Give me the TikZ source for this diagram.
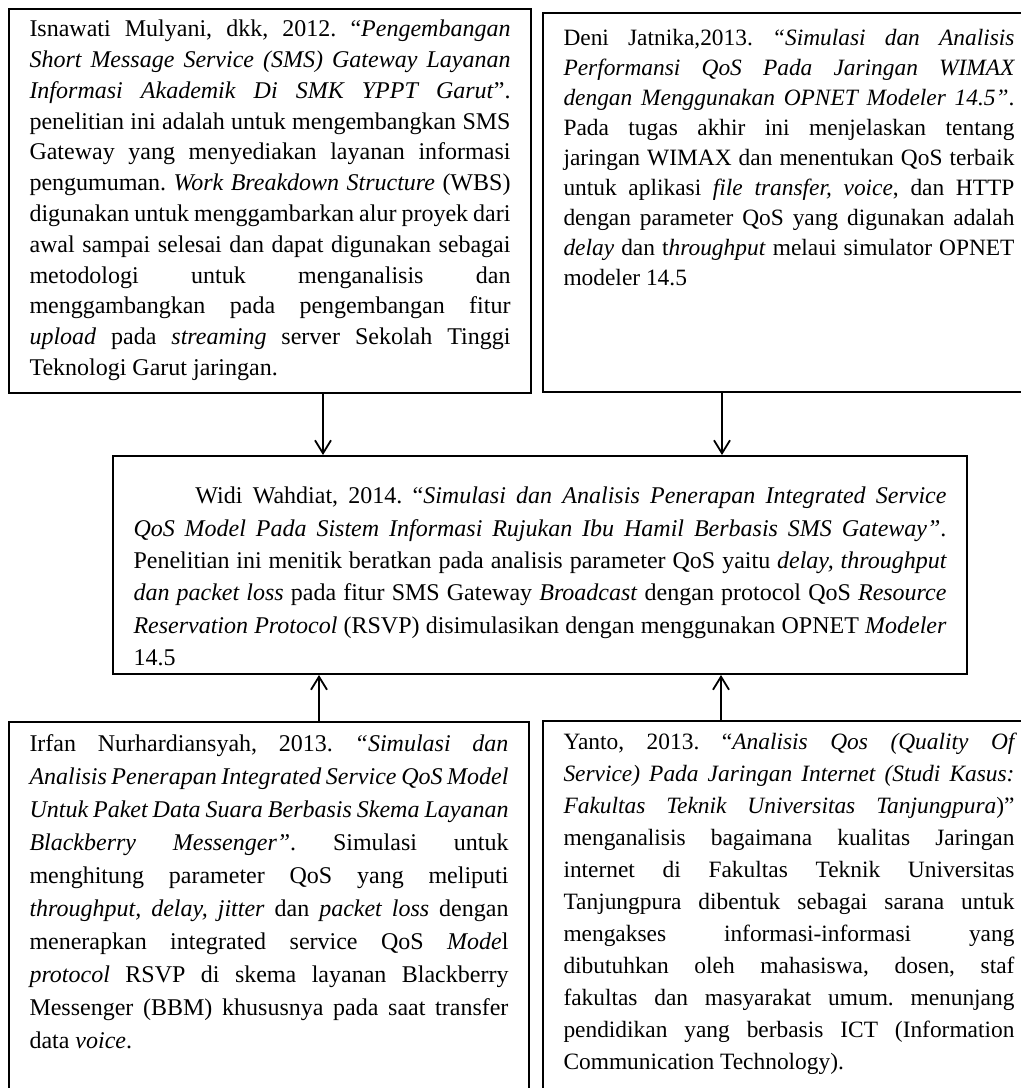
\documentclass[tikz,border=0pt]{standalone}
\usepackage{fontspec}
\setmainfont{Liberation Serif}
\usepackage{tikz}
\usetikzlibrary{arrows.meta,positioning}
\frenchspacing
\hyphenpenalty=10000
\exhyphenpenalty=10000
\tolerance=10000
\hbadness=10000
\vbadness=10000
\hfuzz=3pt
\vfuzz=20pt
% text block of fixed height, set from the top
\newcommand{\reftext}[3]{\begin{minipage}[t][#1][t]{#2}#3\end{minipage}}

\begin{document}
\begin{tikzpicture}[
  refbox/.style={
    rectangle, draw=black, line width=1pt, anchor=north west,
    inner xsep=10.25pt, inner ysep=6pt,
    font={\fontsize{12}{15.4}\selectfont}
  },
  narrowbox/.style={
    refbox, font={\fontsize{11.7}{15}\selectfont}
  },
  mainbox/.style={
    rectangle, draw=black, line width=1pt,
    inner xsep=10.25pt, inner ysep=15.5pt,
    font={\fontsize{12}{16.2}\selectfont}
  },
  arr/.style={-{Straight Barb[length=6.5pt,width=8pt]}, line width=0.9pt},
]
\useasboundingbox (0,0) rectangle (510.5pt,-544pt);

% ── Nodes ──
\node[refbox, inner ysep=5.5pt] (isnawati) at (4pt,-4pt)
  {\reftext{181pt}{240.5pt}{Isnawati Mulyani, dkk, 2012. “\textit{Pengembangan\linebreak
  Short Message Service (SMS) Gateway Layanan\linebreak
  Informasi Akademik Di SMK YPPT Garut}”.\linebreak
  penelitian ini adalah untuk mengembangkan SMS\linebreak
  Gateway yang menyediakan layanan informasi\linebreak
  pengumuman. \textit{Work Breakdown Structure} (WBS)\linebreak
  digunakan untuk menggambarkan alur proyek dari\linebreak
  awal sampai selesai dan dapat digunakan sebagai\linebreak
  metodologi untuk menganalisis dan\linebreak
  menggambangkan pada pengembangan fitur\linebreak
  \textit{upload} pada \textit{streaming} server Sekolah Tinggi\linebreak
  Teknologi Garut jaringan.}};

\node[narrowbox, inner ysep=8pt, right=5pt of isnawati.north east, anchor=north west, yshift=-2pt] (deni)
  {\reftext{173.5pt}{225.5pt}{Deni Jatnika,2013. \textit{“Simulasi dan Analisis\linebreak
  Performansi QoS Pada Jaringan WIMAX\linebreak
  dengan Menggunakan OPNET Modeler 14.5”}.\linebreak
  Pada tugas akhir ini menjelaskan tentang\linebreak
  jaringan WIMAX dan menentukan QoS terbaik\linebreak
  untuk aplikasi \textit{file transfer, voice}, dan HTTP\linebreak
  dengan parameter QoS yang digunakan adalah\linebreak
  \textit{delay} dan t\textit{hroughput} melaui simulator OPNET\linebreak
  modeler 14.5}};

\node[mainbox, below=30.5pt of isnawati.south east, xshift=4pt] (widi)
  {\reftext{78pt}{406.5pt}{\hspace*{31pt}Widi Wahdiat, 2014. “\textit{Simulasi dan Analisis Penerapan Integrated Service\linebreak
  QoS Model Pada Sistem Informasi Rujukan Ibu Hamil Berbasis SMS Gateway”}.\linebreak
  Penelitian ini menitik beratkan pada analisis parameter QoS yaitu \textit{delay, throughput\linebreak
  dan packet loss} pada fitur SMS Gateway \textit{Broadcast} dengan protocol QoS \textit{Resource\linebreak
  Reservation Protocol} (RSVP) disimulasikan dengan menggunakan OPNET \textit{Modeler}\linebreak
  14.5}};

\node[refbox, font={\fontsize{12}{16.5}\selectfont}, inner ysep=6.5pt,
      below=163.5pt of isnawati.south west, anchor=north west] (irfan)
  {\reftext{177pt}{239.5pt}{Irfan Nurhardiansyah, 2013. \textit{“Simulasi dan\linebreak
  Analisis Penerapan Integrated Service QoS Model\linebreak
  Untuk Paket Data Suara Berbasis Skema Layanan\linebreak
  Blackberry Messenger”}. Simulasi untuk\linebreak
  menghitung parameter QoS yang meliputi\linebreak
  \textit{throughput, delay, jitter} dan \textit{packet loss} dengan\linebreak
  menerapkan integrated service QoS \textit{Mode}l\linebreak
  \textit{protocol} RSVP di skema layanan Blackberry\linebreak
  Messenger (BBM) khususnya pada saat transfer\linebreak
  data \textit{voice}.}};

\node[narrowbox, font={\fontsize{11.7}{16}\selectfont}, inner ysep=6pt,
      below=163.5pt of deni.south west, anchor=north west] (yanto)
  {\reftext{178pt}{225.5pt}{Yanto, 2013. “\textit{Analisis Qos (Quality Of\linebreak
  Service) Pada Jaringan Internet (Studi Kasus:\linebreak
  Fakultas Teknik Universitas Tanjungpura})”\linebreak
  menganalisis bagaimana kualitas Jaringan\linebreak
  internet di Fakultas Teknik Universitas\linebreak
  Tanjungpura dibentuk sebagai sarana untuk\linebreak
  mengakses informasi-informasi yang\linebreak
  dibutuhkan oleh mahasiswa, dosen, staf\linebreak
  fakultas dan masyarakat umum. menunjang\linebreak
  pendidikan yang berbasis ICT (Information\linebreak
  Communication Technology).}};

% ── Edges ──
\draw[arr] ([xshift=26.5pt]isnawati.south) -- ([xshift=26.5pt]isnawati.south |- widi.north);
\draw[arr] ([xshift=-33.5pt]deni.south) -- ([xshift=-33.5pt]deni.south |- widi.north);
\draw[arr] ([xshift=25pt]irfan.north) -- ([xshift=25pt]irfan.north |- widi.south);
\draw[arr] ([xshift=-34pt]yanto.north) -- ([xshift=-34pt]yanto.north |- widi.south);
\end{tikzpicture}
\end{document}
